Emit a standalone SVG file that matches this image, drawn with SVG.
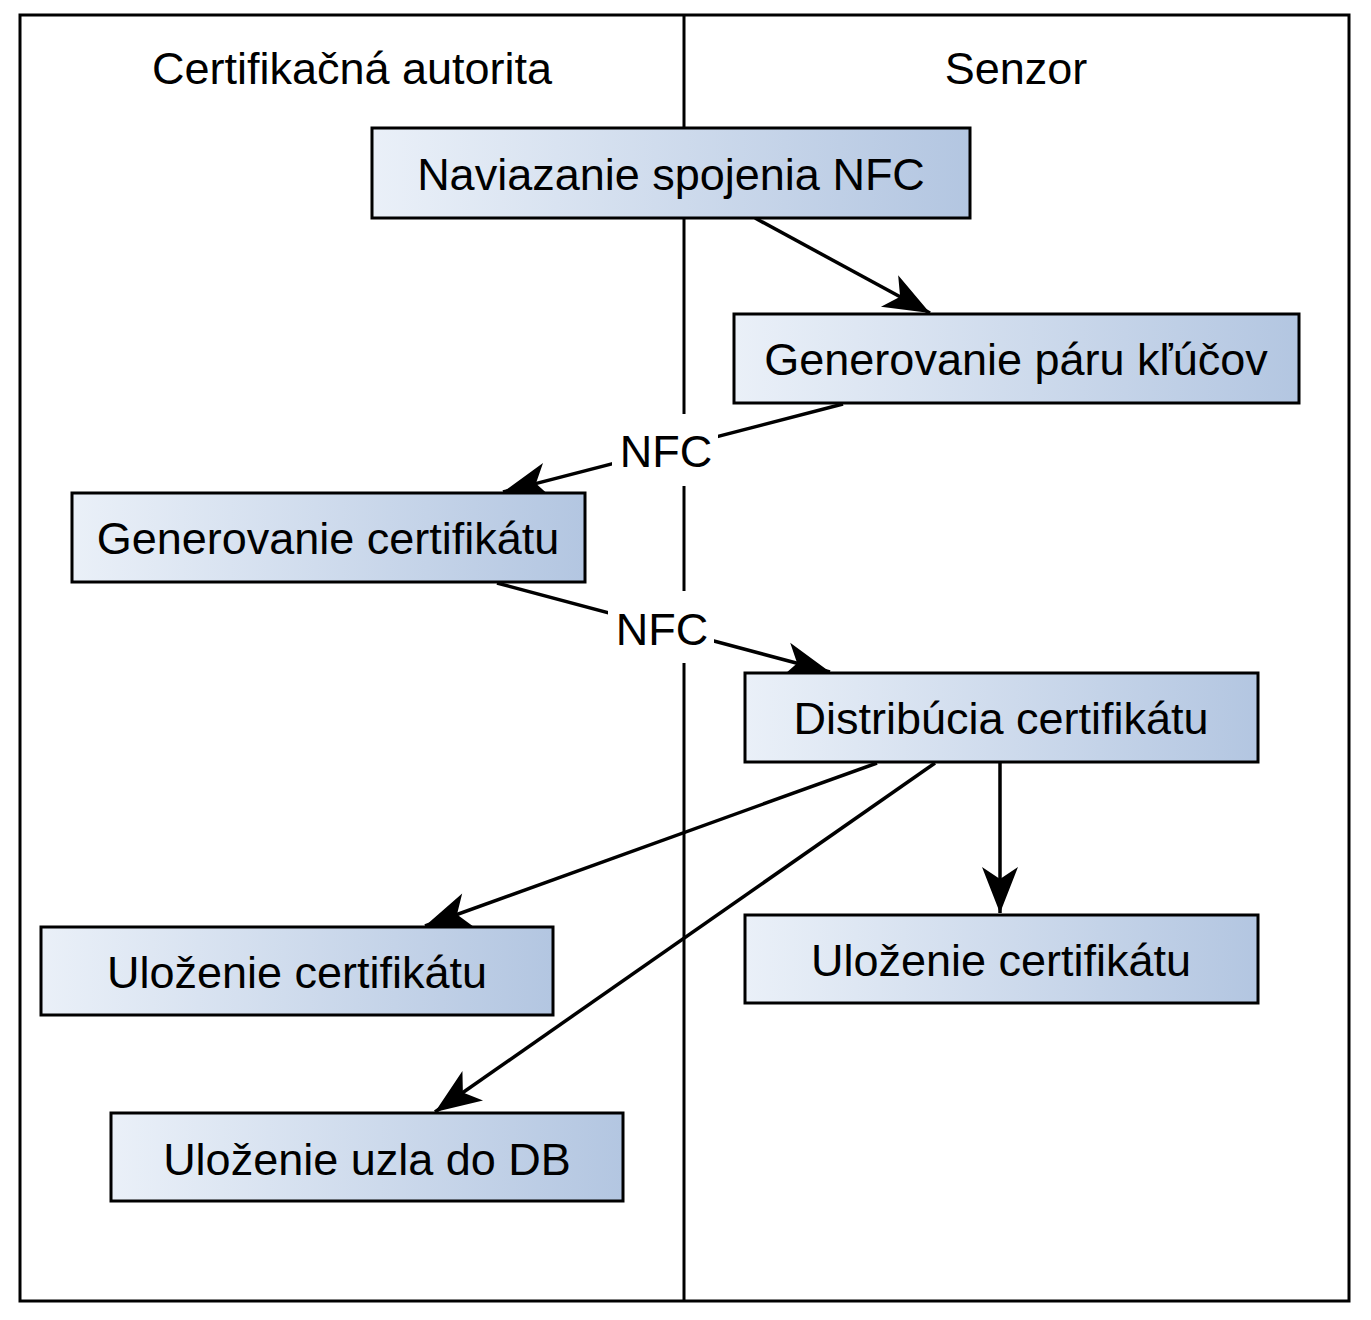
<svg xmlns="http://www.w3.org/2000/svg" width="1371" height="1320" viewBox="0 0 1371 1320">
<style>
text{font-family:"Liberation Sans",Arial,sans-serif;font-size:45px;fill:#000;text-anchor:middle}
.box{fill:url(#g);stroke:#000;stroke-width:3}
.frame{fill:none;stroke:#000;stroke-width:3}
.edge{fill:none;stroke:#000;stroke-width:3.5;marker-end:url(#arr)}
.line{fill:none;stroke:#000;stroke-width:3}
.lbl{fill:#fff;stroke:none}
</style>
<defs>
<linearGradient id="g" x1="0" y1="0" x2="1" y2="0">
<stop offset="0" stop-color="#eaf0f8"/>
<stop offset="1" stop-color="#b3c6e1"/>
</linearGradient>
<marker id="arr" markerUnits="userSpaceOnUse" viewBox="-50 -22 52 44" refX="0" refY="0" markerWidth="52" markerHeight="44" orient="auto" overflow="visible">
<path d="M0,0 L-46,-18 L-34,0 L-46,18 Z" fill="#000"/>
</marker>
</defs>
<rect width="1371" height="1320" fill="#fff"/>
<g id="frame">
<rect class="frame" x="20" y="15" width="1329" height="1286"/>
<line class="line" x1="684" y1="15" x2="684" y2="1301"/>
<text x="352" y="84">Certifikačná autorita</text>
<text x="1016" y="84">Senzor</text>
</g>
<g id="connectors">
<line class="edge" x1="755" y1="218" x2="930" y2="313"/>
<line class="edge" x1="843" y1="404" x2="503" y2="492"/>
<line class="edge" x1="497" y1="583" x2="830" y2="672"/>
<line class="edge" x1="877" y1="763" x2="425" y2="926"/>
<line class="edge" x1="935" y1="763" x2="435" y2="1112"/>
<line class="edge" x1="1000" y1="763" x2="1000" y2="913"/>
<rect class="lbl" x="612" y="414" width="106" height="72"/>
<text x="666" y="467">NFC</text>
<rect class="lbl" x="608" y="591" width="106" height="72"/>
<text x="662" y="645">NFC</text>
</g>
<g id="n1"><rect class="box" x="372" y="128" width="598" height="90"/><text x="671" y="190">Naviazanie spojenia NFC</text></g>
<g id="n2"><rect class="box" x="734" y="314" width="565" height="89"/><text x="1016" y="375">Generovanie páru kľúčov</text></g>
<g id="n3"><rect class="box" x="72" y="493" width="513" height="89"/><text x="328" y="554">Generovanie certifikátu</text></g>
<g id="n4"><rect class="box" x="745" y="673" width="513" height="89"/><text x="1001" y="734">Distribúcia certifikátu</text></g>
<g id="n5"><rect class="box" x="41" y="927" width="512" height="88"/><text x="297" y="988">Uloženie certifikátu</text></g>
<g id="n6"><rect class="box" x="745" y="915" width="513" height="88"/><text x="1001" y="976">Uloženie certifikátu</text></g>
<g id="n7"><rect class="box" x="111" y="1113" width="512" height="88"/><text x="367" y="1175">Uloženie uzla do DB</text></g>
</svg>
